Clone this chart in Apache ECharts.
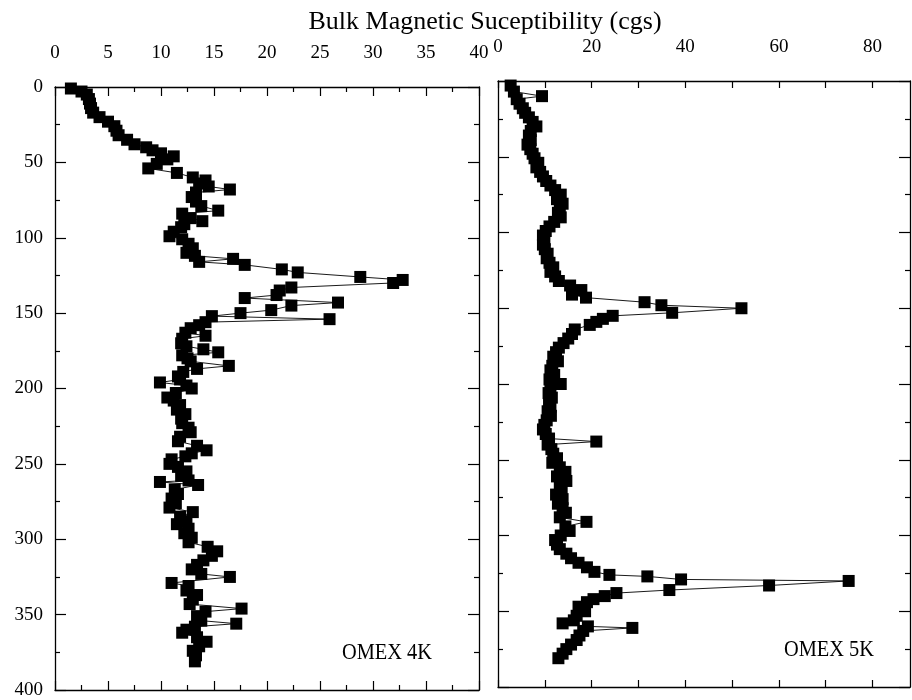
<!DOCTYPE html>
<html>
<head>
<meta charset="utf-8">
<script src="https://cdn.jsdelivr.net/npm/echarts@6/dist/echarts.min.js"></script>
</head>
<body style="margin:0;background:#fff">
<div id="chartDom" style="width:912px;height:700px;"></div>
<script>
// OMEX 4K core: depth (cm) and bulk susceptibility
var depth4K = [1,3,5,8,11,14,17,20,23,26,
  29,32,35,38,40,42,44,46,48,51,
  54,57,60,62,64,66,68,70,73,76,
  79,82,84,87,89,91,93,96,99,101,
  104,107,110,112,114,116,118,121,123,126,
  128,130,133,135,138,140,143,145,148,150,
  152,154,156,158,160,163,165,167,170,172,
  174,176,178,180,182,185,187,189,192,194,
  196,198,200,203,206,208,211,214,217,220,
  223,226,229,232,235,238,241,243,245,247,
  250,252,255,258,261,262,264,267,270,273,
  276,279,282,285,288,290,293,296,299,302,
  305,308,311,314,317,320,323,325,329,331,
  334,337,340,343,346,348,351,354,356,358,
  360,362,365,368,371,374,377,381];
var chi4K = [1.5,2.5,3.0,3.2,3.3,3.4,3.6,4.2,5.0,5.6,
  5.8,6.0,6.8,7.5,8.6,9.2,10.0,11.2,10.6,9.6,
  8.8,11.5,13.0,14.2,13.6,14.5,16.5,13.3,12.9,13.3,
  13.8,15.4,12.0,12.8,13.9,12.2,11.9,11.2,10.8,12.0,
  12.6,13.0,12.4,13.2,16.8,13.6,17.9,21.4,22.9,28.8,
  32.8,31.9,22.3,21.2,20.9,17.9,26.7,22.3,20.4,17.5,
  14.8,25.9,14.2,13.6,12.8,12.3,14.2,12.0,11.9,12.4,
  14.0,15.4,12.0,12.5,12.8,16.4,13.4,12.1,11.6,11.8,
  9.9,12.4,12.9,11.4,10.6,11.2,11.8,11.5,12.3,11.9,
  12.0,12.6,12.8,11.8,11.6,13.4,14.3,12.9,12.3,11.0,
  10.8,11.6,12.4,11.9,12.6,9.9,13.5,11.3,11.6,11.0,
  11.4,10.8,13.0,11.8,12.4,11.5,12.6,12.2,12.9,12.6,
  14.4,15.3,14.8,14.0,13.4,12.9,13.8,16.5,11.0,12.6,
  12.4,13.4,13.0,12.7,17.6,14.2,13.4,13.8,17.1,13.2,
  12.4,12.0,13.4,14.3,13.6,13.0,13.3,13.2];

// OMEX 5K core
var depth5K = [3,7,10,12,15,18,21,24,27,30,
  33,36,39,42,45,48,51,54,57,60,
  63,66,69,72,75,78,81,84,87,90,
  93,96,99,102,105,108,111,114,117,120,
  123,126,129,132,135,138,141,143,146,148,
  150,153,155,157,159,161,164,167,170,173,
  176,179,182,185,188,191,194,197,200,203,
  206,209,212,215,218,221,224,227,230,233,
  236,238,240,243,246,249,252,255,258,261,
  264,267,270,273,276,279,282,285,288,291,
  294,297,300,303,306,309,312,315,318,321,
  324,326,327,329,330,333,336,338,340,342,
  344,347,350,353,356,358,360,361,363,366,
  369,372,375,378,381];
var chi5K = [2.7,3.4,9.4,4.0,4.6,5.3,5.8,6.6,7.4,8.2,
  7.0,6.6,7.0,6.3,6.9,7.4,7.8,8.6,8.2,9.0,
  9.6,10.3,11.2,12.2,13.4,12.6,13.8,13.2,12.8,13.4,
  12.0,11.0,10.2,9.6,9.9,9.6,10.0,10.6,10.4,11.0,
  11.8,11.2,12.2,13.0,15.4,17.8,15.8,18.8,31.3,34.9,
  52.0,37.2,24.5,22.4,21.0,19.6,16.4,15.8,15.0,14.0,
  13.0,12.4,11.8,12.8,11.6,11.2,12.0,11.0,13.4,11.2,
  10.8,11.5,10.9,11.2,10.6,11.3,10.4,9.9,9.6,10.2,
  10.9,21.0,10.6,11.4,11.8,12.6,11.6,13.2,14.4,12.6,
  14.6,13.2,13.6,12.4,13.8,12.8,13.8,14.5,13.2,18.9,
  14.4,15.3,13.4,12.2,12.6,13.2,14.6,15.6,17.2,19.0,
  20.6,23.8,31.9,39.1,74.9,57.9,36.6,25.3,22.8,20.4,
  19.0,17.2,18.6,16.8,16.2,13.8,19.2,28.7,18.2,17.4,
  16.8,15.6,14.6,13.8,12.9];

var ticks4K = [0,5,10,15,20,25,30,35,40];
var labels5K = [0,20,40,60,80];
var ticks5K = [0,10,20,30,40,50,60,70,80];
var depthTicks = [0,50,100,150,200,250,300,350,400];

var black = '#000';
var serif = 'Liberation Serif';

function pairs(xs, ys) {
  return ys.map(function (y, i) { return [xs[i], y]; });
}

// frame axis with inward ticks
function xAx(grid, pos, max, labels, ticks, showLabel) {
  return {
    type: 'value', gridIndex: grid, position: pos, min: 0, max: max,
    interval: ticks[1] - ticks[0],
    axisLine: {show: true, onZero: false, lineStyle: {color: black, width: 1.3}},
    axisTick: {show: true, inside: true, length: grid === 0 ? 9 : 7, customValues: ticks, lineStyle: {color: black, width: 1.2}},
    minorTick: {show: grid === 0, splitNumber: 2, length: 5, lineStyle: {color: black, width: 1.2}},
    splitLine: {show: false},
    axisLabel: {show: showLabel, customValues: labels, margin: 24, color: black, fontFamily: serif, fontSize: 19}
  };
}
function yAx(grid, pos, showLabel) {
  return {
    type: 'value', gridIndex: grid, position: pos, min: 0, max: 400, interval: 50, inverse: true,
    axisLine: {show: true, onZero: false, lineStyle: {color: black, width: 1.3}},
    axisTick: {show: true, inside: true, length: 11, lineStyle: {color: black, width: 1.2}},
    minorTick: {show: true, splitNumber: 2, length: 5, lineStyle: {color: black, width: 1.2}},
    splitLine: {show: false},
    axisLabel: {show: showLabel, customValues: depthTicks, margin: 12, color: black, fontFamily: serif, fontSize: 19}
  };
}
function core(xi, yi, xs, ys) {
  return {
    type: 'line', xAxisIndex: xi, yAxisIndex: yi,
    data: pairs(xs, ys),
    symbol: 'rect', symbolSize: 12, showSymbol: true,
    lineStyle: {color: black, width: 0.9},
    itemStyle: {color: black},
    animation: false
  };
}

var myChart = echarts.init(document.getElementById('chartDom'));
myChart.setOption({
  animation: false,
  backgroundColor: '#fff',
  grid: [
    {left: 55, top: 87, width: 424, height: 603},
    {left: 498, top: 81, width: 412, height: 606}
  ],
  xAxis: [
    xAx(0, 'top', 40, ticks4K, ticks4K, true),
    xAx(0, 'bottom', 40, ticks4K, ticks4K, false),
    xAx(1, 'top', 88, labels5K, ticks5K, true),
    xAx(1, 'bottom', 88, labels5K, ticks5K, false)
  ],
  yAxis: [
    yAx(0, 'left', true),
    yAx(0, 'right', false),
    yAx(1, 'left', false),
    yAx(1, 'right', false)
  ],
  series: [
    core(0, 0, chi4K, depth4K),
    core(2, 2, chi5K, depth5K)
  ],
  graphic: [
    {type: 'text', x: 485, y: 22, style: {text: 'Bulk Magnetic Suceptibility (cgs)', font: '26px "Liberation Serif"', fill: black, align: 'center', verticalAlign: 'middle'}},
    {type: 'text', x: 387, y: 653, scaleX: 0.85, style: {text: 'OMEX 4K', font: '24px "Liberation Serif"', fill: black, align: 'center', verticalAlign: 'middle'}},
    {type: 'text', x: 829, y: 650, scaleX: 0.85, style: {text: 'OMEX 5K', font: '24px "Liberation Serif"', fill: black, align: 'center', verticalAlign: 'middle'}}
  ]
});
window.onresize = myChart.resize;
</script>
</body>
</html>
